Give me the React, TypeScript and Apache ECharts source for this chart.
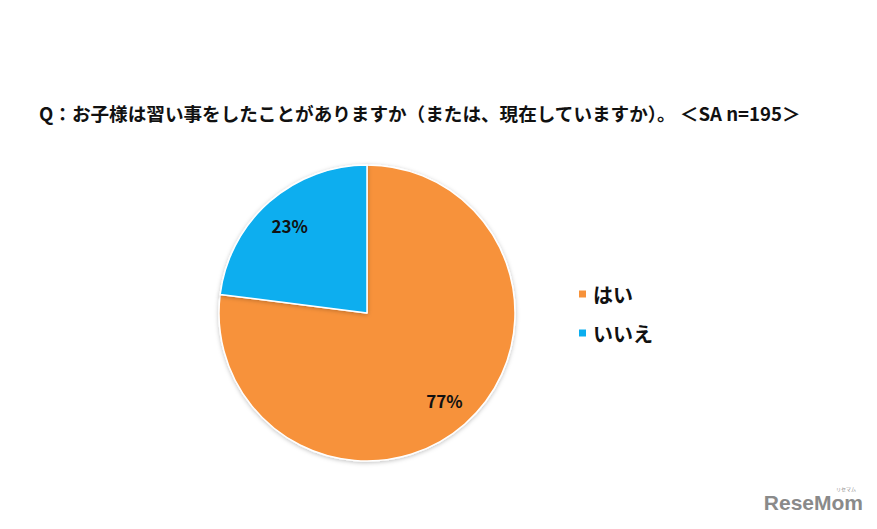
import React, { useEffect, useRef } from "react";
import * as echarts from "echarts";

const categories = ["はい", "いいえ"];
const values = [77, 23];
const colors = ["#F7923A", "#0BAEEF"];
const titleText = "Q：お子様は習い事をしたことがありますか（または、現在していますか）。 ＜SA n=195＞";

export default function App() {
  const ref = useRef<HTMLDivElement>(null);
  useEffect(() => {
    document.body.style.margin = "0";
    const chart = echarts.init(ref.current!, null, { renderer: "svg" });
    const data = categories.map((name, i) => ({ name, value: values[i], itemStyle: { color: colors[i] } }));
    const font = "'Noto Sans CJK JP', 'Noto Sans', sans-serif";
    chart.setOption({
      animation: false,
      backgroundColor: "#ffffff",
      title: {
        text: titleText,
        left: 34,
        top: 98,
        textStyle: { fontFamily: font, fontSize: 18.6, fontWeight: "bold", color: "#111" },
      },
      legend: {
        orient: "vertical",
        left: 572,
        top: 279,
        itemWidth: 9,
        itemHeight: 9,
        itemGap: 19,
        icon: "rect",
        data: categories.map((name, i) => ({ name, itemStyle: { color: colors[i] } })),
        textStyle: { fontFamily: font, fontSize: 20, fontWeight: "bold", color: "#111", padding: [0, 0, 0, 1] },
      },
      series: [
        {
          type: "pie",
          center: [367, 313],
          radius: [0, 148],
          startAngle: 90,
          clockwise: true,
          label: { show: false },
          labelLine: { show: false },
          itemStyle: { borderColor: "#ffffff", borderWidth: 1.5, shadowBlur: 4, shadowColor: "rgba(0,0,0,0.25)", shadowOffsetY: 1 },
          data,
          silent: true,
        },
        {
          type: "pie",
          center: [367, 313],
          radius: [80, 148],
          startAngle: 90,
          clockwise: true,
          itemStyle: { color: "rgba(0,0,0,0)" },
          label: {
            show: true,
            position: "inside",
            formatter: "{c}%",
            fontFamily: font,
            fontSize: 17,
            fontWeight: "bold",
            color: "#111",
          },
          labelLine: { show: false },
          data: categories.map((name, i) => ({ name, value: values[i] })),
          silent: true,
          legendHoverLink: false,
        },
      ],
      graphic: [
        {
          type: "text",
          right: 14,
          top: 492,
          style: { text: "ReseMom", fontFamily: "'Liberation Sans', Arial, sans-serif", fontSize: 21, fontWeight: "bold", fill: "#8a8a8a" },
        },
        {
          type: "text",
          left: 836,
          top: 486,
          style: { text: "リセマム", fontFamily: font, fontSize: 5, fill: "#8a8a8a" },
        },
      ],
    });
    return () => chart.dispose();
  }, []);
  return <div ref={ref} style={{ width: 877, height: 529 }} />;
}
